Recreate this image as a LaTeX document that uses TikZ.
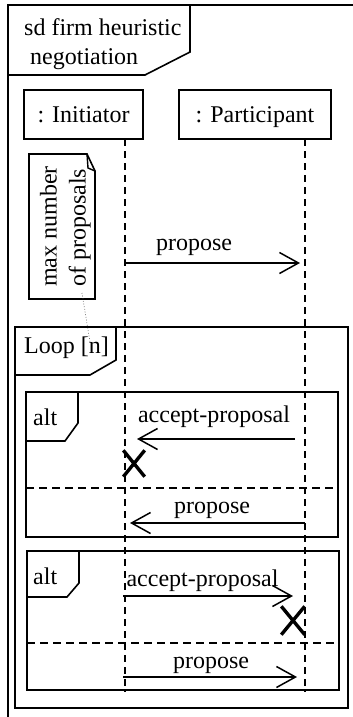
\documentclass[tikz,border=0pt]{standalone}
\usepackage{fontspec}
\setmainfont{Liberation Serif}
\usetikzlibrary{arrows.meta,shapes.misc}
\begin{document}
\begin{tikzpicture}[x=1pt,y=-1pt,
  font=\fontsize{24}{29}\selectfont,
  frame/.style={draw, line width=1.6pt},
  lifebox/.style={draw, line width=1.6pt, minimum width=119pt, minimum height=49pt, inner sep=0pt, text height=15.8pt, text depth=0pt},
  life/.style={line width=1.6pt, dash pattern=on 7pt off 5pt},
  sepline/.style={line width=1.5pt, dash pattern=on 8pt off 5pt},
  msg/.style={line width=1.5pt, -{Straight Barb[length=19pt,width=21pt]}},
  lbl/.style={inner sep=0pt, anchor=base},
  xmark/.style={draw, cross out, line width=3.4pt, inner sep=0pt}]
\useasboundingbox (0,0) rectangle (353,717);

% outer frame
\draw[frame] (8,717) -- (8,5) -- (353,5);
\draw[frame] (8,5) -- (190,5) -- (190,52) -- (145,75) -- (8,75);
\node[inner sep=0pt, anchor=north west, align=left] (title) at (24,18) {sd firm heuristic\\\hspace{6pt}negotiation};

% lifeline heads
\node[lifebox, minimum width=119pt] (ini) at (83.5,114.5) {: Initiator};
\node[lifebox, minimum width=152pt] (par) at (255,114.5) {: Participant};
\coordinate (iTop) at (125,139);
\coordinate (iBot) at (125,692);
\coordinate (pTop) at (305,139);
\coordinate (pBot) at (305,692);

% note
\draw[frame] (29,154) -- (87,154) -- (95,171) -- (95,299) -- (29,299) -- cycle;
\draw[line width=1.4pt] (87,154) -- (88,168) -- (95,171);
\node[rotate=90, inner sep=0pt, anchor=south west, align=left] (note) at (91,287) {max number\\of proposals};
\coordinate (nA) at (82,293);
\coordinate (nB) at (90,342);
\draw[line width=0.7pt, dotted, black!70] (nA) -- (nB);

% first message
\coordinate (m1s) at (125,263);
\coordinate (m1e) at (300,263);
\draw[msg] (m1s) -- (m1e);
\node[lbl] (m1l) at (194,250) {propose};

% loop frame
\node[frame, minimum width=333pt, minimum height=381pt, inner sep=0pt] (loop) at (181.5,517.5) {};
\draw[frame] (15,327) -- (116,327) -- (116,360) -- (90,375) -- (15,375);
\node[inner sep=0pt, anchor=base west] (loopl) at (24,353) {Loop [n]};

% alt 1
\node[frame, minimum width=312pt, minimum height=145pt, inner sep=0pt] (alt1) at (182,464.5) {};
\draw[frame] (26,392) -- (78,392) -- (78,423) -- (65,441) -- (26,441);
\node[inner sep=0pt, anchor=base west] (alt1l) at (33,425) {alt};
\coordinate (s1a) at (26,488);
\coordinate (s1b) at (338,488);
\draw[sepline] (s1a) -- (s1b);
\coordinate (a1s) at (295,439);
\coordinate (a1e) at (137,439);
\draw[msg] (a1s) -- (a1e);
\node[lbl] (a1l) at (214,422) {accept-proposal};
\node[xmark, minimum width=18pt, minimum height=23pt] (x1) at (134,463.5) {};
\coordinate (b1s) at (305,523);
\coordinate (b1e) at (130,523);
\draw[msg] (b1s) -- (b1e);
\node[lbl] (b1l) at (212,513) {propose};

% alt 2
\node[frame, minimum width=312pt, minimum height=139pt, inner sep=0pt] (alt2) at (183,620.5) {};
\draw[frame] (27,551) -- (79,551) -- (79,583) -- (67,597) -- (27,597);
\node[inner sep=0pt, anchor=base west] (alt2l) at (33,584) {alt};
\coordinate (s2a) at (27,643);
\coordinate (s2b) at (339,643);
\draw[sepline] (s2a) -- (s2b);
\coordinate (a2s) at (123,596);
\coordinate (a2e) at (293,596);
\draw[msg] (a2s) -- (a2e);
\node[lbl] (a2l) at (202.5,586) {accept-proposal};
\node[xmark, minimum width=20pt, minimum height=25pt] (x2) at (293,620.5) {};
\coordinate (b2s) at (123,677);
\coordinate (b2e) at (297,677);
\draw[msg] (b2s) -- (b2e);
\node[lbl] (b2l) at (211,668) {propose};

% lifelines
\draw[life] (iTop) -- (iBot);
\draw[life] (pTop) -- (pBot);
\end{tikzpicture}
\end{document}
